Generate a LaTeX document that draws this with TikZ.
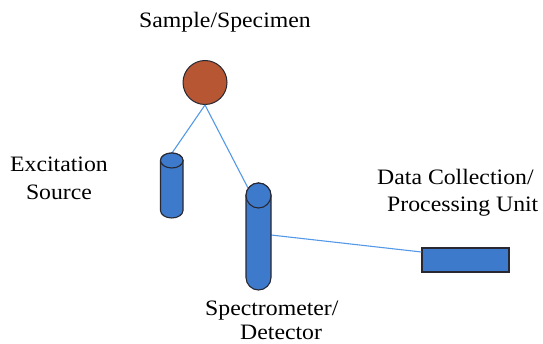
\documentclass[tikz,border=0pt]{standalone}
\usepackage{fontspec}
\setmainfont{Liberation Serif}
\definecolor{samplebrown}{RGB}{182,86,50}
\definecolor{cylblue}{RGB}{62,122,204}
\definecolor{linkblue}{RGB}{84,152,232}
\definecolor{edgedark}{RGB}{40,40,50}
\newcommand{\wide}[1]{\scalebox{1.08}[1]{#1}}
\begin{document}
\begin{tikzpicture}[x=1pt,y=-1pt,
  lbl/.style={font=\fontsize{22}{26}\selectfont, inner sep=0pt},
  solidpart/.style={fill=cylblue, draw=edgedark, line width=1.1pt},
  link/.style={draw=linkblue, line width=1.1pt}]
\useasboundingbox (0,0) rectangle (543,344);

% sample
\node[circle, minimum size=44pt, inner sep=0pt, fill=samplebrown,
      draw=edgedark, line width=1pt] (sample) at (205,82.5) {};

% data collection unit
\node[rectangle, minimum width=87pt, minimum height=24pt, inner sep=0pt,
      solidpart] (dcu) at (465.5,260) {};

% connector end points on the cylinders
\coordinate (exctop) at (172,153);
\coordinate (spectop) at (248,188);
\coordinate (specside) at (271,235);

% connectors
\draw[link] (sample.south) -- (exctop);
\draw[link] (sample.south) -- (spectop);
\draw[link] (specside) -- ([yshift=8pt]dcu.west);

% excitation source cylinder
\path[solidpart] (160.5,160.5) -- (160.5,210.5) arc[start angle=180, end angle=0, x radius=11.25, y radius=7.5]
  -- (183,160.5) arc[start angle=0, end angle=-180, x radius=11.25, y radius=7.5] -- cycle;
\path[solidpart] (171.75,160.5) ellipse[x radius=11.25, y radius=7.5];

% spectrometer / detector cylinder
\path[solidpart] (246,195.5) -- (246,277.5) arc[start angle=180, end angle=0, x radius=12.5, y radius=12.5]
  -- (271,195.5) arc[start angle=0, end angle=-180, x radius=12.5, y radius=12.5] -- cycle;
\path[solidpart] (258.5,195.5) ellipse[x radius=12.5, y radius=12.5];

% labels
\node[lbl, anchor=base] (lsample) at (225,28) {\wide{Sample/Specimen}};
\node[lbl, anchor=base] (lexc1) at (59,172) {\wide{Excitation}};
\node[lbl, anchor=base] (lexc2) at (59,200) {\wide{Source}};
\node[lbl, anchor=base west] (ldcu1) at (377,185) {\wide{Data Collection/}};
\node[lbl, anchor=base west] (ldcu2) at (387,212) {\wide{Processing Unit}};
\node[lbl, anchor=base west] (lspec1) at (205,316) {\wide{Spectrometer/}};
\node[lbl, anchor=base west] (lspec2) at (240,339) {\wide{Detector}};
\end{tikzpicture}
\end{document}
